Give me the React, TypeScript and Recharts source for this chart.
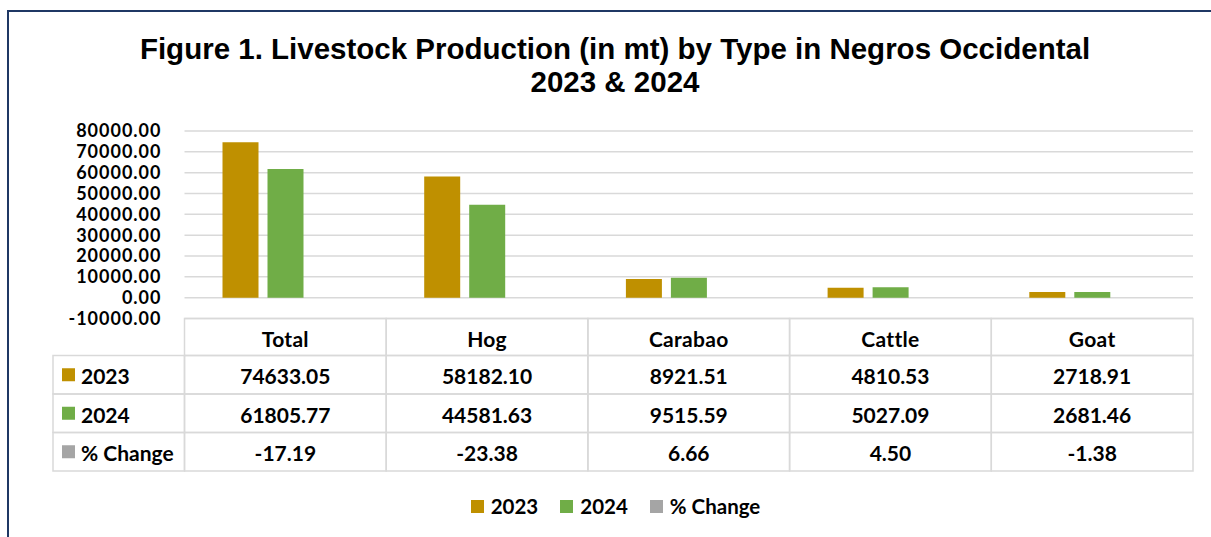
import { BarChart, Bar, XAxis, YAxis, CartesianGrid, Legend } from "recharts"

const categories = ["Total", "Hog", "Carabao", "Cattle", "Goat"]
const values2023 = [74633.05, 58182.1, 8921.51, 4810.53, 2718.91]
const values2024 = [61805.77, 44581.63, 9515.59, 5027.09, 2681.46]
const pctChange = [-17.19, -23.38, 6.66, 4.5, -1.38]
const yTicks = [-10000, 0, 10000, 20000, 30000, 40000, 50000, 60000, 70000, 80000]

const seriesNames = ["2023", "2024", "% Change"]
const seriesKeys = ["y2023", "y2024", "pct"]
const seriesColors = ["#BF9000", "#70AD47", "#A5A5A5"]
const seriesValues = [values2023, values2024, pctChange]

const data = categories.map((name, i) => ({
    name,
    y2023: values2023[i],
    y2024: values2024[i],
    pct: pctChange[i],
}))

const FONT = "Lato, 'Open Sans', sans-serif"
const GRID = "#D9D9D9"
const HEADER_H = 37
const ROW_H = 38.5

function TableTick(props: any) {
    const { x, y, payload, index } = props
    const half = payload && payload.offset ? payload.offset : 100.8
    const left = x - half
    const w = half * 2
    const cells = []

    cells.push(
        <g key="h">
            <rect x={left} y={y} width={w} height={HEADER_H} fill="none" stroke={GRID} strokeWidth={1.5} />
            <text x={x} y={y + HEADER_H / 2 + 1} textAnchor="middle" dominantBaseline="central"
                fontFamily={FONT} fontWeight={700} fontSize={21} letterSpacing={0.3} fill="#000">
                {payload.value}
            </text>
        </g>
    )

    seriesValues.forEach((vals, r) => {
        const ry = y + HEADER_H + r * ROW_H
        cells.push(
            <g key={"r" + r}>
                <rect x={left} y={ry} width={w} height={ROW_H} fill="none" stroke={GRID} strokeWidth={1.5} />
                <text x={x} y={ry + ROW_H / 2 + 1} textAnchor="middle" dominantBaseline="central"
                    fontFamily={FONT} fontWeight={700} fontSize={21} fill="#000">
                    {vals[index].toFixed(2)}
                </text>
            </g>
        )
    })

    // row labels on the left of the first column
    if (index === 0) {
        const lx = 53
        seriesNames.forEach((s, r) => {
            const ry = y + HEADER_H + r * ROW_H
            cells.push(
                <g key={"l" + r}>
                    <rect x={lx} y={ry} width={left - lx} height={ROW_H} fill="none" stroke={GRID} strokeWidth={1.5} />
                    <rect x={62} y={ry + ROW_H / 2 - 6.5} width={13} height={13} fill={seriesColors[r]} />
                    <text x={81} y={ry + ROW_H / 2 + 1} dominantBaseline="central"
                        fontFamily={FONT} fontWeight={700} fontSize={21} fill="#000">
                        {s}
                    </text>
                </g>
            )
        })
    }

    return <g>{cells}</g>
}

function LegendContent() {
    return (
        <div style={{ display: "flex", justifyContent: "center", gap: 22, fontFamily: FONT, fontWeight: 700, fontSize: 20.5 }}>
            {seriesNames.map((s, i) => (
                <div key={s} style={{ display: "flex", alignItems: "center" }}>
                    <span style={{ width: 13, height: 13, background: seriesColors[i], marginRight: 7, display: "inline-block" }} />
                    <span>{s}</span>
                </div>
            ))}
        </div>
    )
}

export default function App() {
    return (
        <div style={{ position: "absolute", left: 0, top: 0, width: 1211, height: 537, overflow: "hidden", background: "#fff" }}>
            <div style={{ position: "absolute", left: 7, top: 10, width: 1400, height: 800, borderLeft: "2px solid #1F3864", borderTop: "2px solid #1F3864" }} />
            <div style={{
                position: "absolute", left: 0, top: 32, width: 1230, textAlign: "center",
                fontFamily: "'Liberation Sans', Arial, sans-serif", fontWeight: 700, fontSize: 29.5, lineHeight: "33px", color: "#000",
            }}>
                Figure 1. Livestock Production (in mt) by Type in Negros Occidental
                <br />
                2023 &amp; 2024
            </div>
            <div style={{ position: "absolute", left: 0, top: 0 }}>
                <BarChart width={1211} height={537} data={data}
                    margin={{ top: 131, right: 18, bottom: 0, left: 24.5 }}
                    barSize={36} barGap={9}>
                    <CartesianGrid vertical={false} stroke={GRID} strokeWidth={1.5} />
                    <XAxis dataKey="name" axisLine={false} tickLine={false} tickSize={0} tickMargin={0}
                        height={218.5} interval={0} tick={<TableTick />} />
                    <YAxis domain={[-10000, 80000]} ticks={yTicks} width={160} axisLine={false} tickLine={false}
                        tickSize={0} tickMargin={23} interval={0}
                        tickFormatter={(v: number) => v.toFixed(2)}
                        tick={{ fontFamily: FONT, fontWeight: 700, fontSize: 18, letterSpacing: 1, fill: "#000" }} />
                    {seriesKeys.map((k, i) => (
                        <Bar key={k} dataKey={k} name={seriesNames[i]} fill={seriesColors[i]} isAnimationActive={false} />
                    ))}
                    <Legend layout="horizontal" verticalAlign="middle" align="center" content={<LegendContent />}
                        wrapperStyle={{ position: "absolute", top: 494, left: 10, width: 1211 }} />
                </BarChart>
            </div>
        </div>
    )
}
